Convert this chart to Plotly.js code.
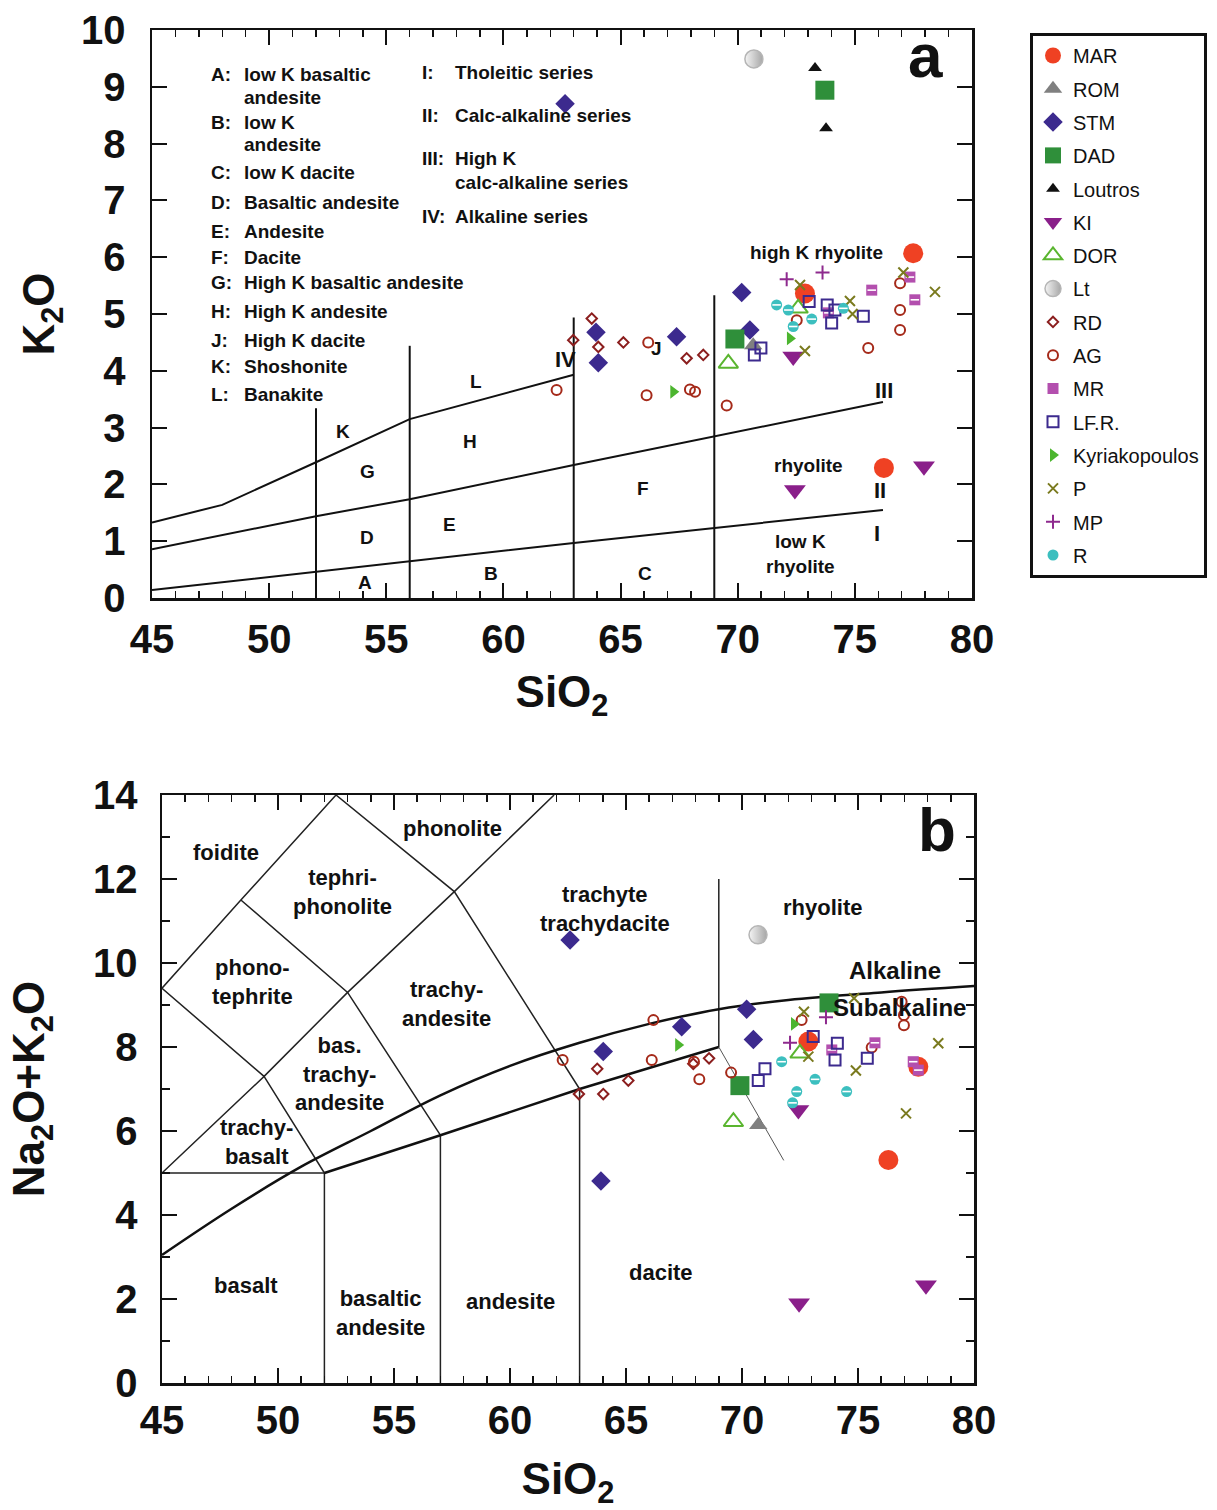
<!DOCTYPE html>
<html>
<head>
<meta charset="utf-8">
<script src="https://cdn.plot.ly/plotly-3.0.1.min.js"></script>
<style>html,body{margin:0;padding:0;background:#fff;}#chart{width:1217px;height:1510px;}</style>
</head>
<body>
<div id="chart"></div>
<script>
// ---------- Panel a data: SiO2 vs K2O ----------
const MAR_si_a = [77.49, 72.87, 76.24];
const MAR_k_a  = [6.07, 5.36, 2.29];
const ROM_si_a = [70.66];
const ROM_k_a  = [4.45];
const STM_si_a = [62.63, 70.17, 63.95, 64.05, 67.39, 70.52];
const STM_k_a  = [8.70, 5.38, 4.68, 4.14, 4.60, 4.72];
const DAD_si_a = [73.72, 69.88];
const DAD_k_a  = [8.94, 4.56];
const LOU_si_a = [73.30, 73.77];
const LOU_k_a  = [9.33, 8.27];
const KI_si_a  = [72.44, 77.95, 72.37];
const KI_k_a   = [1.90, 2.32, 4.25];
const DOR_si_a = [69.60, 72.58];
const DOR_k_a  = [4.13, 5.10];
const LT_si_a  = [70.69];
const LT_k_a   = [9.49];
const RD_si_a  = [63.77, 62.98, 64.05, 65.12, 67.82, 68.53];
const RD_k_a   = [4.92, 4.54, 4.42, 4.50, 4.22, 4.28];
const AG_si_a  = [62.27, 66.11, 67.96, 68.18, 69.53, 66.18, 72.52, 75.57, 76.93, 76.93, 76.93];
const AG_k_a   = [3.66, 3.57, 3.67, 3.63, 3.39, 4.50, 4.89, 4.40, 5.54, 5.07, 4.72];
const MR_si_a  = [75.72, 77.35, 77.56, 73.87];
const MR_k_a   = [5.42, 5.65, 5.25, 5.02];
const LFR_si_a = [73.05, 73.82, 74.01, 75.36, 74.15, 70.99, 70.71];
const LFR_k_a  = [5.22, 5.16, 4.84, 4.96, 5.07, 4.40, 4.28];
const KYR_si_a = [67.25, 72.23];
const KYR_k_a  = [3.63, 4.57];
const P_si_a   = [72.66, 74.79, 74.90, 77.07, 78.42, 72.87];
const P_k_a    = [5.51, 5.23, 5.00, 5.73, 5.39, 4.35];
const MP_si_a  = [72.09, 73.62];
const MP_k_a   = [5.61, 5.73];
const R_si_a   = [71.66, 72.16, 73.16, 72.37, 74.51];
const R_k_a    = [5.16, 5.07, 4.91, 4.78, 5.10];

// ---------- Panel b data: SiO2 vs Na2O+K2O ----------
const MAR_si_b = [72.86, 76.31, 77.60];
const MAR_t_b  = [8.13, 5.31, 7.53];
const ROM_si_b = [70.70];
const ROM_t_b  = [6.14];
const STM_si_b = [62.59, 63.92, 64.02, 67.40, 70.20, 70.49];
const STM_t_b  = [10.55, 4.81, 7.89, 8.48, 8.90, 8.18];
const DAD_si_b = [73.75, 69.91];
const DAD_t_b  = [9.05, 7.08];
const KI_si_b  = [72.46, 77.93, 72.43];
const KI_t_b   = [1.90, 2.33, 6.50];
const DOR_si_b = [69.63, 72.50];
const DOR_t_b  = [6.22, 7.85];
const LT_si_b  = [70.69];
const LT_t_b   = [10.67];
const RD_si_b  = [63.76, 62.97, 64.02, 65.10, 67.90, 68.58];
const RD_t_b   = [7.48, 6.88, 6.88, 7.20, 7.60, 7.73];
const AG_si_b  = [62.27, 66.18, 66.11, 67.93, 68.16, 69.53, 72.57, 75.59, 76.88, 76.98, 76.98];
const AG_t_b   = [7.69, 8.64, 7.69, 7.65, 7.23, 7.39, 8.64, 7.99, 9.08, 8.76, 8.52];
const MR_si_b  = [73.87, 75.73, 77.38, 77.60];
const MR_t_b   = [7.93, 8.10, 7.65, 7.45];
const LFR_si_b = [70.99, 70.70, 73.07, 74.11, 74.01, 75.40];
const LFR_t_b  = [7.48, 7.20, 8.25, 8.09, 7.69, 7.73];
const KYR_si_b = [67.25, 72.24];
const KYR_t_b  = [8.05, 8.55];
const P_si_b   = [72.67, 74.83, 72.86, 74.91, 77.07, 78.46];
const P_t_b    = [8.84, 9.16, 7.77, 7.44, 6.42, 8.09];
const MP_si_b  = [72.07, 73.62];
const MP_t_b   = [8.10, 8.71];
const R_si_b   = [71.71, 73.15, 72.36, 74.51, 72.18];
const R_t_b    = [7.65, 7.23, 6.94, 6.94, 6.67];

// ---------- Classification boundaries ----------
// Panel a (K2O-SiO2)
const bndA_x = [45, 52, 56, 63, 76.2, null, 45, 52, 56, 63, 76.2, null, 45, 48, 52, 56, 63, null,
                52, 52, null, 56, 56, null, 63, 63, null, 69, 69];
const bndA_y = [0.14, 0.46, 0.64, 0.97, 1.55, null, 0.86, 1.44, 1.74, 2.34, 3.45, null, 1.33, 1.64, 2.39, 3.15, 3.93, null,
                0, 3.34, null, 0, 4.44, null, 0, 4.94, null, 0, 5.33];
// Panel b (TAS)
const tasThin_x = [45, 48.4, 52.5, null, 45, 49.4, 53, 57.6, 61.9, null, 48.4, 53, 57, null, 52.5, 57.6, 63, null,
                   45, 49.4, 52, null, 45, 52, null, 52, 52, null, 57, 57, null, 63, 63, null, 69, 69];
const tasThin_y = [9.4, 11.5, 14, null, 9.4, 7.3, 9.3, 11.7, 14, null, 11.5, 9.3, 5.9, null, 14, 11.7, 7, null,
                   5, 7.3, 5, null, 5, 5, null, 0, 5, null, 0, 5.9, null, 0, 7, null, 8, 12];
const tasThick_x = [52, 57, 63, 69];
const tasThick_y = [5, 5.9, 7, 8];
const tasTail_x = [69, 71.8];
const tasTail_y = [8, 5.3];
const alkCurve_x = [45, 48, 51, 54, 57, 60, 63, 66, 69, 72, 76, 80];
const alkCurve_y = [3.05, 4.15, 5.15, 6.0, 6.85, 7.55, 8.1, 8.55, 8.9, 9.12, 9.3, 9.45];

// ---------- Styles ----------
const S = {
  MAR: {name:'MAR', symbol:'circle', color:'#ef4123', size:20},
  ROM: {name:'ROM', symbol:'triangle-up', color:'#808080', size:16},
  STM: {name:'STM', symbol:'diamond', color:'#3c2a8e', size:15},
  DAD: {name:'DAD', symbol:'square', color:'#2f8f3a', size:19},
  LOU: {name:'Loutros', symbol:'triangle-up', color:'#111111', size:12},
  KI:  {name:'KI', symbol:'triangle-down', color:'#8a1f8a', size:19},
  DOR: {name:'DOR', symbol:'triangle-up-open', color:'#5ab52f', size:17, lw:2},
  LT:  {name:'Lt', symbol:'circle', color:'#f4f4f4', size:18, grad:true},
  RD:  {name:'RD', symbol:'diamond-open', color:'#8b1e1e', size:8, lw:2},
  AG:  {name:'AG', symbol:'circle-open', color:'#a52a1a', size:10, lw:2},
  MR:  {name:'MR', symbol:'square', color:'#b34fae', size:11, bar:true},
  LFR: {name:'LF.R.', symbol:'square-open', color:'#3c2a8e', size:11, lw:2},
  KYR: {name:'Kyriakopoulos', symbol:'triangle-right', color:'#4cb52f', size:12},
  P:   {name:'P', symbol:'x-thin-open', color:'#7a7a1e', size:10, lw:2},
  MP:  {name:'MP', symbol:'cross-thin-open', color:'#8e2a8e', size:10, lw:2},
  R:   {name:'R', symbol:'circle', color:'#3cbfbf', size:11, bar:true}
};

const traces = [];
traces.push({x:bndA_x, y:bndA_y, xaxis:'x', yaxis:'y', mode:'lines', line:{color:'#111', width:2}, showlegend:false, hoverinfo:'skip'});
traces.push({x:tasThin_x, y:tasThin_y, xaxis:'x2', yaxis:'y2', mode:'lines', line:{color:'#222', width:1.5}, showlegend:false, hoverinfo:'skip'});
traces.push({x:tasThick_x, y:tasThick_y, xaxis:'x2', yaxis:'y2', mode:'lines', line:{color:'#111', width:2.5}, showlegend:false, hoverinfo:'skip'});
traces.push({x:tasTail_x, y:tasTail_y, xaxis:'x2', yaxis:'y2', mode:'lines', line:{color:'#555', width:1}, showlegend:false, hoverinfo:'skip'});
traces.push({x:alkCurve_x, y:alkCurve_y, xaxis:'x2', yaxis:'y2', mode:'lines', line:{color:'#111', width:2.5, shape:'spline', smoothing:1}, showlegend:false, hoverinfo:'skip'});

function addSeries(key, xa, ya, xb, yb) {
  const st = S[key];
  const mk = {symbol:st.symbol, color:st.color, size:st.size, line:{color:st.color, width:st.lw || 0}};
  if (st.grad) { mk.gradient = {type:'horizontal', color:'#a6a6a6'}; mk.line = {color:'#b5b5b5', width:1.5}; }
  traces.push({x:xa, y:ya, xaxis:'x', yaxis:'y', mode:'markers', name:st.name, legendgroup:key, marker:mk, showlegend:true});
  if (xb) traces.push({x:xb, y:yb, xaxis:'x2', yaxis:'y2', mode:'markers', name:st.name, legendgroup:key, marker:mk, showlegend:false});
  if (st.bar) {
    const bm = {symbol:'line-ew', size:st.size*0.55, color:'#ffffff', line:{color:'#ffffff', width:1.6}};
    traces.push({x:xa, y:ya, xaxis:'x', yaxis:'y', mode:'markers', legendgroup:key, marker:bm, showlegend:false, hoverinfo:'skip'});
    if (xb) traces.push({x:xb, y:yb, xaxis:'x2', yaxis:'y2', mode:'markers', legendgroup:key, marker:bm, showlegend:false, hoverinfo:'skip'});
  }
}
addSeries('MAR', MAR_si_a, MAR_k_a, MAR_si_b, MAR_t_b);
addSeries('ROM', ROM_si_a, ROM_k_a, ROM_si_b, ROM_t_b);
addSeries('STM', STM_si_a, STM_k_a, STM_si_b, STM_t_b);
addSeries('DAD', DAD_si_a, DAD_k_a, DAD_si_b, DAD_t_b);
addSeries('LOU', LOU_si_a, LOU_k_a, null, null);
addSeries('KI', KI_si_a, KI_k_a, KI_si_b, KI_t_b);
addSeries('DOR', DOR_si_a, DOR_k_a, DOR_si_b, DOR_t_b);
addSeries('LT', LT_si_a, LT_k_a, LT_si_b, LT_t_b);
addSeries('RD', RD_si_a, RD_k_a, RD_si_b, RD_t_b);
addSeries('AG', AG_si_a, AG_k_a, AG_si_b, AG_t_b);
addSeries('MR', MR_si_a, MR_k_a, MR_si_b, MR_t_b);
addSeries('LFR', LFR_si_a, LFR_k_a, LFR_si_b, LFR_t_b);
addSeries('KYR', KYR_si_a, KYR_k_a, KYR_si_b, KYR_t_b);
addSeries('P', P_si_a, P_k_a, P_si_b, P_t_b);
addSeries('MP', MP_si_a, MP_k_a, MP_si_b, MP_t_b);
addSeries('R', R_si_a, R_k_a, R_si_b, R_t_b);

// ---------- Annotations ----------
const FONT = 'Liberation Sans, Arial, sans-serif';
const ann = [];
function t(text, x, y, size, ref, anchor) {
  ann.push({text:text, x:x, y:y, xref:ref==='b'?'x2':'x', yref:ref==='b'?'y2':'y', showarrow:false,
            xanchor:anchor || 'center', yanchor:'middle', align:'center',
            font:{family:FONT, size:size, color:'#111', weight:'bold'}});
}
const keyLetters = ['A:', '', 'B:', '', 'C:', 'D:', 'E:', 'F:', 'G:', 'H:', 'J:', 'K:', 'L:'];
const keyTexts = ['low K basaltic', 'andesite', 'low K', 'andesite', 'low K dacite', 'Basaltic andesite', 'Andesite',
                  'Dacite', 'High K basaltic andesite', 'High K andesite', 'High K dacite', 'Shoshonite', 'Banakite'];
const keyY = [9.21, 8.82, 8.38, 7.98, 7.50, 6.97, 6.46, 5.99, 5.55, 5.05, 4.54, 4.07, 3.59];
keyLetters.forEach((l, i) => {
  if (l) t(l, 47.43, keyY[i], 19, 'a', 'left');
  t(keyTexts[i], 48.84, keyY[i], 19, 'a', 'left');
});
const serLetters = ['I:', 'II:', 'III:', '', 'IV:'];
const serTexts = ['Tholeitic series', 'Calc-alkaline series', 'High K', 'calc-alkaline series', 'Alkaline series'];
const serY = [9.26, 8.49, 7.73, 7.32, 6.71];
serLetters.forEach((l, i) => {
  if (l) t(l, 56.44, serY[i], 19, 'a', 'left');
  t(serTexts[i], 57.85, serY[i], 19, 'a', 'left');
});
t('K', 53.14, 2.93, 19, 'a'); t('G', 54.19, 2.22, 19, 'a'); t('H', 58.57, 2.76, 19, 'a');
t('L', 58.83, 3.81, 19, 'a'); t('D', 54.16, 1.07, 19, 'a'); t('E', 57.68, 1.30, 19, 'a');
t('A', 54.09, 0.27, 19, 'a'); t('B', 59.46, 0.43, 19, 'a'); t('C', 66.04, 0.44, 19, 'a');
t('F', 65.96, 1.92, 19, 'a'); t('J', 66.55, 4.40, 19, 'a');
t('IV', 62.63, 4.20, 22, 'a'); t('III', 76.24, 3.66, 22, 'a'); t('II', 76.07, 1.90, 22, 'a'); t('I', 75.94, 1.14, 22, 'a');
t('rhyolite', 73.0, 2.34, 19, 'a'); t('low K<br>rhyolite', 72.7, 0.77, 19, 'a');
t('high K rhyolite', 73.38, 6.09, 19, 'a');
t('a', 78.0, 9.55, 62, 'a');
t('foidite', 47.76, 12.62, 22, 'b'); t('phonolite', 57.5, 13.21, 22, 'b');
t('tephri-<br>phonolite', 52.8, 11.69, 22, 'b'); t('phono-<br>tephrite', 48.92, 9.55, 22, 'b');
t('trachyte<br>trachydacite', 64.09, 11.29, 22, 'b'); t('rhyolite', 73.45, 11.31, 22, 'b');
t('Alkaline', 76.6, 9.83, 24, 'b'); t('Subalkaline', 76.8, 8.95, 24, 'b');
t('trachy-<br>andesite', 57.28, 9.02, 22, 'b'); t('bas.<br>trachy-<br>andesite', 52.67, 7.36, 22, 'b');
t('trachy-<br>basalt', 49.09, 5.73, 22, 'b'); t('basalt', 48.62, 2.33, 22, 'b');
t('basaltic<br>andesite', 54.4, 1.67, 22, 'b'); t('andesite', 60.04, 1.93, 22, 'b');
t('dacite', 66.5, 2.64, 22, 'b');
t('b', 78.4, 13.17, 62, 'b');

// ---------- Axes ----------
const tickFont = {family:FONT, size:40, color:'#111', weight:'bold'};
const titleFont = {family:FONT, size:44, color:'#111', weight:'bold'};
function xAxis(domain, anchor, labelStandoff, titleStandoff) {
  return {domain:domain, anchor:anchor, range:[45, 80], dtick:5, tick0:45, ticks:'inside', ticklen:15, tickwidth:2,
          tickcolor:'#111', minor:{dtick:1, ticks:'inside', ticklen:7, tickwidth:1.5, tickcolor:'#111'},
          showline:true, linecolor:'#111', linewidth:2.5, mirror:'allticks', showgrid:false, zeroline:false,
          tickfont:tickFont, ticklabelstandoff:labelStandoff, automargin:false,
          title:{text:'SiO<sub>2</sub>', font:titleFont, standoff:titleStandoff}};
}
const layout = {
  width:1217, height:1510, margin:{l:0, r:0, t:0, b:0}, paper_bgcolor:'#fff', plot_bgcolor:'#fff',
  font:{family:FONT, color:'#111'},
  xaxis: xAxis([152/1217, 972/1217], 'y', 4, 17),
  yaxis: {domain:[1-598/1510, 1-30/1510], anchor:'x', range:[0, 10], dtick:1, ticks:'inside', ticklen:15, tickwidth:2,
          tickcolor:'#111', showline:true, linecolor:'#111', linewidth:2.5, mirror:'allticks', showgrid:false, zeroline:false,
          tickfont:tickFont, ticklabelstandoff:16, automargin:false,
          title:{text:'K<sub>2</sub>O', font:titleFont, standoff:13}},
  xaxis2: xAxis([162/1217, 974/1217], 'y2', 0, 41),
  yaxis2: {domain:[1-1383/1510, 1-795/1510], anchor:'x2', range:[0, 14], dtick:2, ticks:'inside', ticklen:15, tickwidth:2,
          tickcolor:'#111', minor:{dtick:1, ticks:'inside', ticklen:8, tickwidth:1.5, tickcolor:'#111'},
          showline:true, linecolor:'#111', linewidth:2.5, mirror:'allticks', showgrid:false, zeroline:false,
          tickfont:tickFont, ticklabelstandoff:14, automargin:false,
          title:{text:'Na<sub>2</sub>O+K<sub>2</sub>O', font:titleFont, standoff:35}},
  legend: {x:1030/1217, y:1-33/1510, xanchor:'left', yanchor:'top', bordercolor:'#111', borderwidth:3,
           bgcolor:'#fff', font:{family:FONT, size:20, color:'#111'}, traceorder:'grouped', tracegroupgap:4.3,
           itemsizing:'trace'},
  annotations: ann,
  showlegend:true
};
Plotly.newPlot('chart', traces, layout, {staticPlot:true, displayModeBar:false});
</script>
</body>
</html>
